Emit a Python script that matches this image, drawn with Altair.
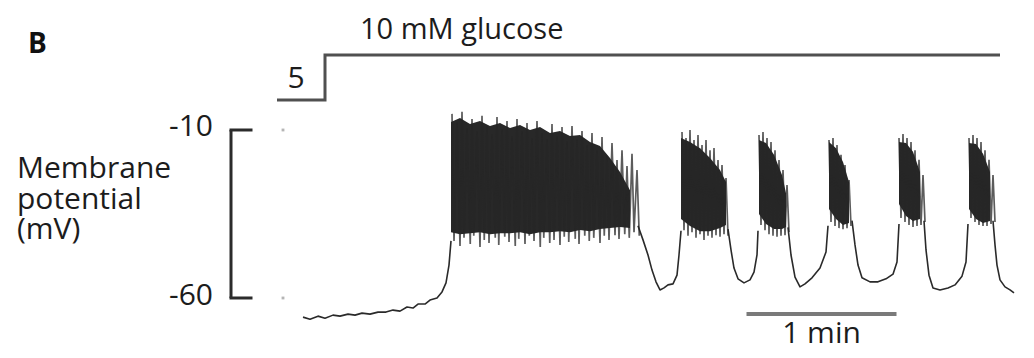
import altair as alt
import pandas as pd

# ---------------- data (time in s, potential in mV, glucose in mM) ----------------
# inter-burst / slow-wave trace, one segment per silent phase
trace_seg = [0] * 24 + [1] * 12 + [2] * 9 + [3] * 9 + [4] * 10 + [5] * 10 + [6] * 7
trace_t = [0, 2.8, 6, 8.8, 12, 14.8, 18, 20.8, 23.6, 26.8, 30, 33.2, 36, 38.8, 41.6, 44, 46, 48.8, 50.8, 53.6, 55.6, 57.2, 58.4, 59.2,
           134, 136, 138, 139.6, 141.2, 142.8, 144.4, 146, 148, 149.6, 150.4, 151.2,
           170, 171.2, 172.4, 174, 176.4, 178.8, 180.4, 181.6, 182,
           194, 195.2, 196.8, 198.8, 200.8, 203.6, 206.8, 209.2, 210,
           219.6, 220.8, 222, 223.6, 226.8, 230, 233.2, 236, 237.6, 238.4,
           248.4, 249.2, 250.4, 252, 254.8, 258, 260.8, 263.6, 265.2, 266,
           276, 276.8, 277.6, 278.8, 280.8, 282.8, 284.4]
trace_mv = [-65.7, -66.3, -65.4, -66.0, -65.1, -65.4, -64.8, -65.1, -64.5, -64.8, -64.2, -64.2, -63.6, -63.9, -62.7, -63.0, -61.8, -61.8, -60.6, -60.0, -58.2, -55.5, -50.2, -43.0,
            -38.5, -42.7, -47.2, -51.7, -55.2, -57.6, -57.0, -56.1, -55.8, -53.2, -47.2, -40.0,
            -39.5, -45.7, -51.1, -54.3, -55.5, -54.6, -52.3, -47.2, -40.0,
            -39.0, -47.2, -53.8, -56.7, -55.8, -54.0, -51.1, -46.3, -38.5,
            -37.0, -44.2, -50.2, -54.0, -55.2, -55.2, -54.3, -52.9, -49.3, -38.0,
            -37.0, -45.7, -53.2, -57.0, -57.6, -57.0, -56.1, -53.5, -49.3, -38.0,
            -37.0, -44.2, -50.2, -54.6, -56.7, -57.6, -58.5]

# dense (black) core of each burst
core_burst = ["b1"] * 19 + ["b2"] * 6 + ["b3"] * 5 + ["b4"] * 4 + ["b5"] * 4 + ["b6"] * 4
core_t = [59.2, 62.8, 66.8, 70.8, 74.8, 78.8, 82.8, 86.8, 90.8, 94.8, 98.8, 102.8, 106.8, 110.8, 114.8, 118.8, 122.8, 126.8, 130.8,
          151.2, 154.8, 158.8, 162.8, 166.8, 169.2,
          182.4, 185.2, 188.4, 191.6, 193.2,
          210.4, 213.2, 216, 218.4,
          238.4, 241.2, 244, 246.8,
          266.4, 269.2, 272, 274.8]
core_top = [-7.6, -6.4, -8.2, -7.3, -8.8, -7.9, -9.4, -8.5, -10.0, -9.1, -10.9, -10.3, -11.8, -11.5, -13.6, -14.8, -18.3, -22.5, -27.9,
            -12.4, -13.6, -15.4, -18.3, -21.9, -25.5,
            -13.0, -13.9, -17.4, -23.4, -28.8,
            -13.6, -15.4, -19.5, -25.5,
            -13.6, -13.9, -16.5, -22.5,
            -13.9, -14.2, -17.1, -22.5]
core_bot = [-40.4, -41.0, -40.7, -40.4, -41.0, -40.7, -40.7, -40.4, -41.0, -40.4, -40.4, -40.1, -40.4, -39.8, -40.1, -39.5, -39.2, -38.9, -39.2,
            -36.5, -38.6, -40.1, -40.1, -39.2, -38.3,
            -35.0, -38.0, -39.5, -39.5, -38.9,
            -33.5, -36.5, -38.3, -37.7,
            -32.0, -35.6, -37.1, -36.5,
            -33.5, -36.5, -37.7, -37.1]

# individual action potentials: peak times/values and the trough that follows
spike_burst = ["b1"] * 38 + ["b2"] * 12 + ["b3"] * 8 + ["b4"] * 6 + ["b5"] * 7 + ["b6"] * 7
peak_t = [59.6, 61.6, 63.6, 65.6, 67.6, 69.6, 71.6, 73.6, 75.6, 77.6, 79.6, 81.6, 83.6, 85.6, 87.6, 89.6, 91.6, 93.6, 95.6,
          97.6, 99.6, 101.6, 103.6, 105.6, 107.6, 109.6, 111.6, 113.6, 115.6, 117.6, 119.6, 121.6, 123.6, 125.6, 127.6, 129.6, 131.6, 133.6,
          151.6, 153.2, 154.8, 156.4, 158, 159.6, 161.2, 162.8, 164.4, 166, 167.6, 169.2,
          182.4, 184, 185.6, 187.2, 188.8, 190.4, 192, 193.6,
          210.4, 212, 213.6, 215.2, 216.8, 218.4,
          238.4, 240, 241.6, 243.2, 244.8, 246.4, 248,
          266.4, 268, 269.6, 271.2, 272.8, 274.4, 276]
peak_mv = [-5.2, -7.6, -4.6, -9.4, -6.7, -10.3, -5.8, -8.8, -11.2, -6.1, -9.7, -7.3, -11.8, -6.7, -10.3, -7.9, -12.4, -7.3, -10.9,
           -12.7, -8.2, -11.8, -9.1, -13.3, -8.8, -12.7, -10.3, -14.5, -10.9, -16.0, -12.1, -17.7, -13.9, -18.9, -16.0, -20.7, -17.1, -21.9,
           -10.6, -12.4, -10.0, -13.0, -11.5, -14.5, -13.0, -16.0, -15.4, -18.9, -20.4, -24.3,
           -11.5, -10.6, -12.4, -13.6, -16.0, -18.9, -21.9, -26.4,
           -13.0, -12.4, -14.5, -17.4, -20.4, -24.9,
           -12.4, -11.2, -12.4, -13.6, -16.0, -18.9, -23.4,
           -12.4, -11.5, -12.4, -13.6, -16.0, -18.9, -23.4]
trough_t = [60.4, 62.8, 64.4, 66.9, 68.3, 70.8, 72.5, 74.4, 76.9, 78.3, 80.7, 82.4, 84.9, 86.3, 88.8, 90.5, 92.4, 94.9, 96.3,
            98.7, 100.4, 102.8, 104.5, 106.3, 108.9, 110.4, 112.7, 114.5, 116.3, 118.8, 120.5, 122.4, 124.8, 126.4, 128.7, 130.5, 132.4, 134.5,
            152.4, 154, 155.6, 157.2, 158.8, 160.4, 162, 163.6, 165.2, 166.8, 168.4, 170,
            183.2, 184.8, 186.4, 188, 189.6, 191.2, 192.8, 194.4,
            211.2, 212.8, 214.4, 216, 217.6, 219.2,
            239.2, 240.8, 242.4, 244, 245.6, 247.2, 248.8,
            267.2, 268.8, 270.4, 272, 273.6, 275.2, 276.8]
trough_mv = [-43.0, -44.5, -42.1, -43.9, -41.5, -44.8, -42.7, -43.6, -42.1, -44.2, -41.8, -43.3, -44.5, -42.4, -43.9, -41.5, -43.0, -44.8, -42.1,
             -43.6, -42.7, -44.2, -41.8, -43.3, -42.4, -43.9, -41.5, -43.0, -42.1, -43.6, -41.5, -42.7, -41.3, -42.4, -41.0, -42.1, -40.4, -41.5,
             -39.8, -41.5, -40.4, -42.1, -41.0, -42.7, -41.5, -42.1, -41.3, -41.8, -41.0, -41.5,
             -38.3, -39.8, -41.0, -41.5, -41.8, -41.5, -41.3, -40.4,
             -37.4, -38.6, -39.2, -39.5, -39.2, -38.6,
             -36.2, -37.4, -38.3, -38.9, -38.6, -38.3, -37.4,
             -36.2, -37.4, -38.3, -38.6, -38.6, -38.0, -37.4]

# glucose stimulus (step from 5 to 10 mM)
gluc_t = [-10.4, 8.8, 278.8]
gluc_mm = [5, 10, 10]

# calibration / scale bars
cal_t = -28.8
cal_tick_end = -20.8
cal_mv = [-10, -60]
cal_labels = ["-10", "-60"]
bar_start, bar_len_s = 177.4, 60
bar_mv = -64.8

# ---------------- tables ----------------
trace_df = pd.DataFrame({"seg": trace_seg, "t": trace_t, "mv": trace_mv})
core_df = pd.DataFrame({"burst": core_burst, "t": core_t, "top": core_top, "bot": core_bot})
zig_rows = []
for b, pt, pv, tt, tv in zip(spike_burst, peak_t, peak_mv, trough_t, trough_mv):
    zig_rows.append({"burst": b, "t": pt, "mv": pv})
    zig_rows.append({"burst": b, "t": tt, "mv": tv})
zig_df = pd.DataFrame(zig_rows)

# ---------------- scales ----------------
X = alt.Scale(domain=[-118, 289.2], nice=False, zero=False)
Y = alt.Scale(domain=[-75.48, 26.31], nice=False, zero=False)
G = alt.Scale(domain=[-22.778, 15.222], nice=False, zero=False)
FONT = "Open Sans"
INK = "#1c1c1c"


def xe(f):
    return alt.X(f, type="quantitative", scale=X, axis=None)


def ye(f):
    return alt.Y(f, type="quantitative", scale=Y, axis=None)


def ge(f):
    return alt.Y(f, type="quantitative", scale=G, axis=None)


trace = alt.Chart(trace_df).mark_line(
    color="#2a2a2a", strokeWidth=1.6, strokeJoin="round"
).encode(x=xe("t"), y=ye("mv"), detail="seg:N", order="t:Q")

zig = alt.Chart(zig_df).mark_line(
    color="#262626", opacity=0.75, strokeWidth=1.7, strokeJoin="bevel"
).encode(x=xe("t"), y=ye("mv"), detail="burst:N", order="t:Q")

core = alt.Chart(core_df).mark_area(
    color="#0a0a0a", opacity=0.88
).encode(x=xe("t"), y=ye("top"), y2="bot", detail="burst:N")

# calibration bracket
cal_vert = alt.Chart(pd.DataFrame({"t": [cal_t], "a": [cal_mv[0]], "b": [cal_mv[1]]})).mark_rule(
    color="#2b2b2b", strokeWidth=3
).encode(x=xe("t"), y=ye("a"), y2="b")
cal_ticks = alt.Chart(pd.DataFrame({"t": [cal_t, cal_t], "t2": [cal_tick_end, cal_tick_end], "mv": cal_mv})).mark_rule(
    color="#2b2b2b", strokeWidth=3, strokeCap="square"
).encode(x=xe("t"), x2="t2", y=ye("mv"))
cal_text = alt.Chart(pd.DataFrame({"t": [-36, -36], "mv": [-11.8, -62.1], "lab": cal_labels})).mark_text(
    font=FONT, fontSize=30, color=INK, align="right", baseline="alphabetic"
).encode(x=xe("t"), y=ye("mv"), text="lab:N")
cal_dots = alt.Chart(pd.DataFrame({"t": [-8, -8], "mv": cal_mv})).mark_square(
    size=8, color="#b5b5b5", opacity=1
).encode(x=xe("t"), y=ye("mv"))

ylab = alt.Chart(pd.DataFrame({"t": [-114.4], "mv": [-24.3],
                               "lab": [["Membrane", "potential", "(mV)"]]})).mark_text(
    font=FONT, fontSize=30, color=INK, align="left", baseline="alphabetic", lineHeight=30.5
).encode(x=xe("t"), y=ye("mv"), text="lab")

panel = alt.Chart(pd.DataFrame({"t": [-110], "mv": [12.9], "lab": ["B"]})).mark_text(
    font=FONT, fontSize=28, fontWeight="bold", color="#111111", align="left", baseline="alphabetic"
).encode(x=xe("t"), y=ye("mv"), text="lab:N")

# time scale bar
bar = alt.Chart(pd.DataFrame({"a": [bar_start], "b": [bar_start + bar_len_s], "mv": [bar_mv]})).mark_rule(
    color="#7a7a7a", strokeWidth=4
).encode(x=xe("a"), x2="b", y=ye("mv"))
bar_text = alt.Chart(pd.DataFrame({"t": [bar_start + bar_len_s / 2], "mv": [-73.4], "lab": ["1 min"]})).mark_text(
    font=FONT, fontSize=30, color=INK, align="center", baseline="alphabetic"
).encode(x=xe("t"), y=ye("mv"), text="lab:N")

# glucose stimulus (own y scale)
gluc = alt.Chart(pd.DataFrame({"t": gluc_t, "mm": gluc_mm})).mark_line(
    color="#505050", strokeWidth=3, interpolate="step-after"
).encode(x=xe("t"), y=ge("mm"))
gluc_title = alt.Chart(pd.DataFrame({"t": [22.8], "mm": [11.8], "lab": ["10 mM glucose"]})).mark_text(
    font=FONT, fontSize=29, color=INK, align="left", baseline="alphabetic"
).encode(x=xe("t"), y=ge("mm"), text="lab:N")
gluc_five = alt.Chart(pd.DataFrame({"t": [-2.8], "mm": [6.33], "lab": ["5"]})).mark_text(
    font=FONT, fontSize=30, color=INK, align="center", baseline="alphabetic"
).encode(x=xe("t"), y=ge("mm"), text="lab:N")

mv_layer = alt.layer(trace, core, zig, cal_vert, cal_ticks, cal_text, cal_dots, ylab, panel, bar, bar_text)
g_layer = alt.layer(gluc, gluc_title, gluc_five)

chart = alt.layer(mv_layer, g_layer).resolve_scale(y="independent").properties(
    width=1018, height=342, autosize="none", background="white",
    padding={"left": 0, "top": 0, "right": 0, "bottom": 8}
).configure_view(stroke=None)

chart.save("out.html", embed_options={"renderer": "svg", "actions": False})
